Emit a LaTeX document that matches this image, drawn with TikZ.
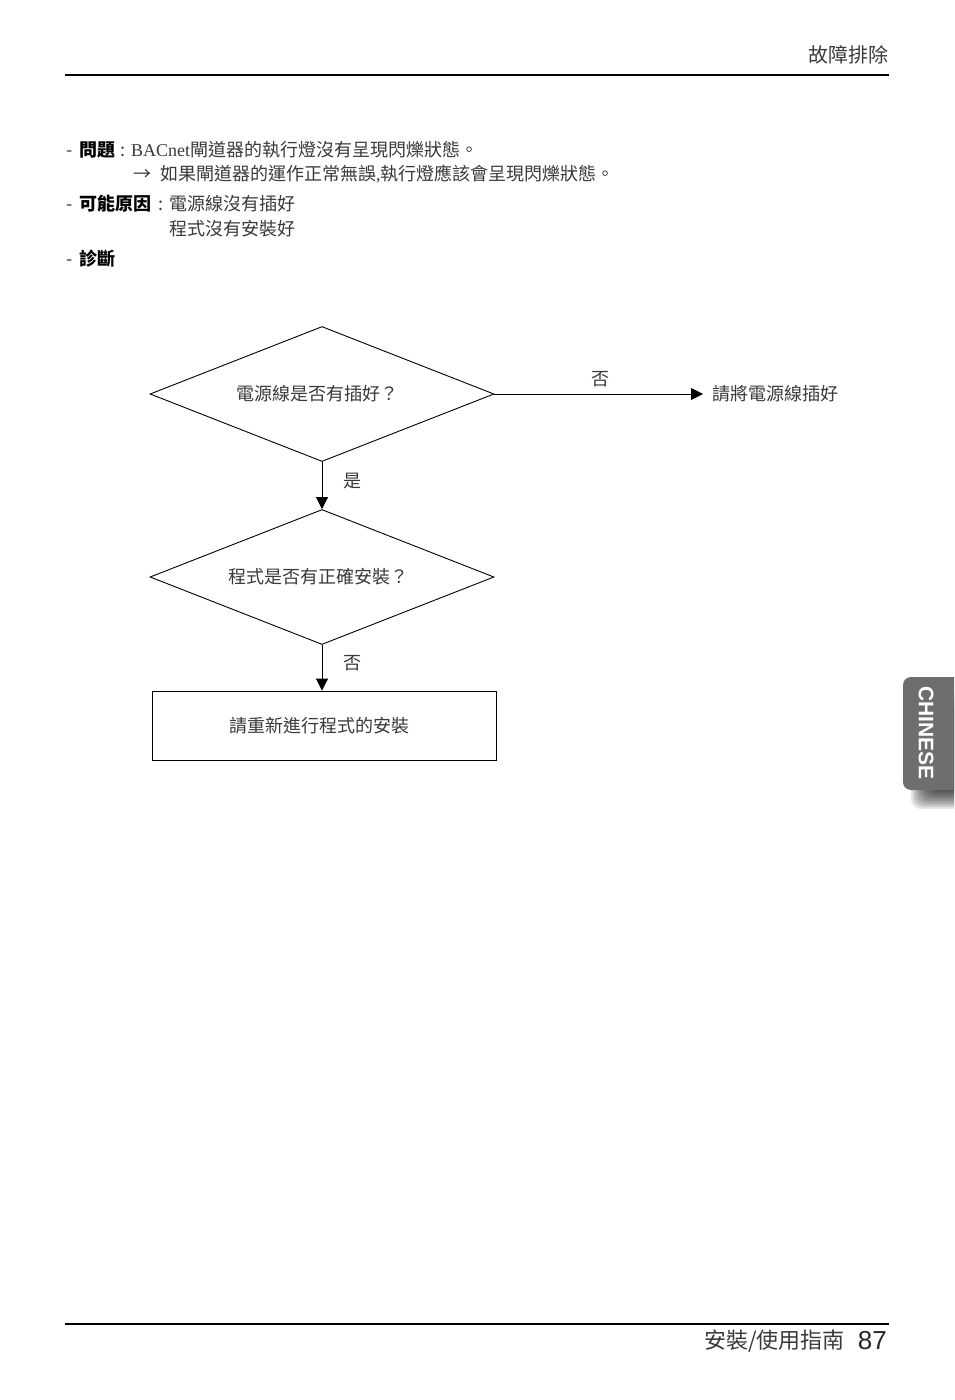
\documentclass[tikz,border=0pt]{standalone}
\usepackage{fontspec}
\setmainfont{Noto Sans CJK TC}
\newfontfamily\latserif{Liberation Serif}
\newfontfamily\latsans{Liberation Sans}
\usetikzlibrary{shapes.geometric,arrows.meta}
\definecolor{txt}{HTML}{3A3A3A}
\definecolor{tabgray}{HTML}{6E6E6E}
\begin{document}
\begin{tikzpicture}[x=1pt,y=-1pt,
  body/.style={font=\fontsize{18}{22}\selectfont, text=txt, inner sep=0pt, anchor=base west},
  bodyb/.style={font=\fontsize{18}{22}\selectfont\bfseries, text=black, inner sep=0pt, anchor=base west},
  lbl/.style={font=\fontsize{18}{22}\selectfont, text=txt, inner sep=0pt},
  decision/.style={diamond, draw=black, line width=0.9pt, minimum width=344pt, minimum height=135pt, aspect=2.55, inner sep=0pt, font=\fontsize{18}{22}\selectfont, text=txt},
  actionbox/.style={rectangle, draw=black, line width=0.9pt, minimum width=344pt, minimum height=69pt, inner sep=0pt, font=\fontsize{18}{22}\selectfont, text=txt},
  flow/.style={draw=black, line width=0.9pt, -{Triangle[length=12pt,width=12pt]}},
  rule/.style={draw=black, line width=2pt}
]
\useasboundingbox (0,0) rectangle (954,1400);
\fill[white] (0,0) rectangle (954,1400);

% header
\node[font=\fontsize{20}{24}\selectfont, text=txt, inner sep=0pt, anchor=east] (hdr) at (889,55) {故障排除};
\coordinate (hl) at (65,75); \coordinate (hr) at (889,75);
\draw[rule] (hl) -- (hr);

% text block (baselines about 6.5pt below the line centres)
\node[body] (d1) at (66,156.5) {-};
\node[bodyb] (q1) at (79,156.5) {問題};
\node[body] (c1) at (120,156.5) {:};
\node[body] (t1) at (131,156.5) {{\latserif BACnet}閘道器的執行燈沒有呈現閃爍狀態。};
\node[body] (a2) at (133,180.5) {→};
\node[body] (t2) at (160,180.5) {如果閘道器的運作正常無誤{\latserif ,}執行燈應該會呈現閃爍狀態。};
\node[body] (d3) at (66,210.5) {-};
\node[bodyb] (q3) at (79,210.5) {可能原因};
\node[body] (c3) at (158,210.5) {:};
\node[body] (t3) at (169,210.5) {電源線沒有插好};
\node[body] (t4) at (169,235.5) {程式沒有安裝好};
\node[body] (d5) at (66,265.5) {-};
\node[bodyb] (q5) at (79,265.5) {診斷};

% flowchart
\node[decision] (dia1) at (322,394) {電源線是否有插好？\hspace*{10pt}};
\node[decision] (dia2) at (322,577) {程式是否有正確安裝？\hspace*{8pt}};
\node[actionbox] (box) at (324,725.5) {請重新進行程式的安裝\hspace*{10pt}};
\node[font=\fontsize{18}{22}\selectfont, text=txt, inner sep=0pt, inner xsep=9pt, anchor=west] (plug) at (703,394) {請將電源線插好};

\draw[flow] (dia1.east) -- (plug.west);
\draw[flow] (dia1.south) -- (dia2.north);
\draw[flow] (dia2.south) -- (box.north -| dia2.south);

\node[lbl] (no1) at (600,379) {否};
\node[lbl] (yes1) at (352,481) {是};
\node[lbl] (no2) at (352,663) {否};

% language tab with its soft shadow
\begin{scope}
\clip (0,0) rectangle (954,1400);
\foreach \m in {-10,-8,...,10}
  \fill[black, opacity=0.1, rounded corners=10pt] (921-\m,700-\m) rectangle (980+\m,799+\m);
\fill[tabgray, rounded corners=8pt] (903,677) rectangle (970,790);
\end{scope}
\node[font=\fontsize{21}{24}\selectfont\latsans\bfseries, text=white, rotate=-90, inner sep=0pt] (tab) at (926,733) {CHINESE};

% footer
\coordinate (fl) at (65,1324); \coordinate (fr) at (889,1324);
\draw[rule] (fl) -- (fr);
\node[font=\fontsize{26}{28}\selectfont\latsans, text=black!85, inner sep=0pt, anchor=east] (pg) at (887,1341) {87};
\node[font=\fontsize{22}{26}\selectfont, text=txt, inner sep=0pt, anchor=east] (guide) at (845,1341) {安裝/使用指南};
\end{tikzpicture}
\end{document}
